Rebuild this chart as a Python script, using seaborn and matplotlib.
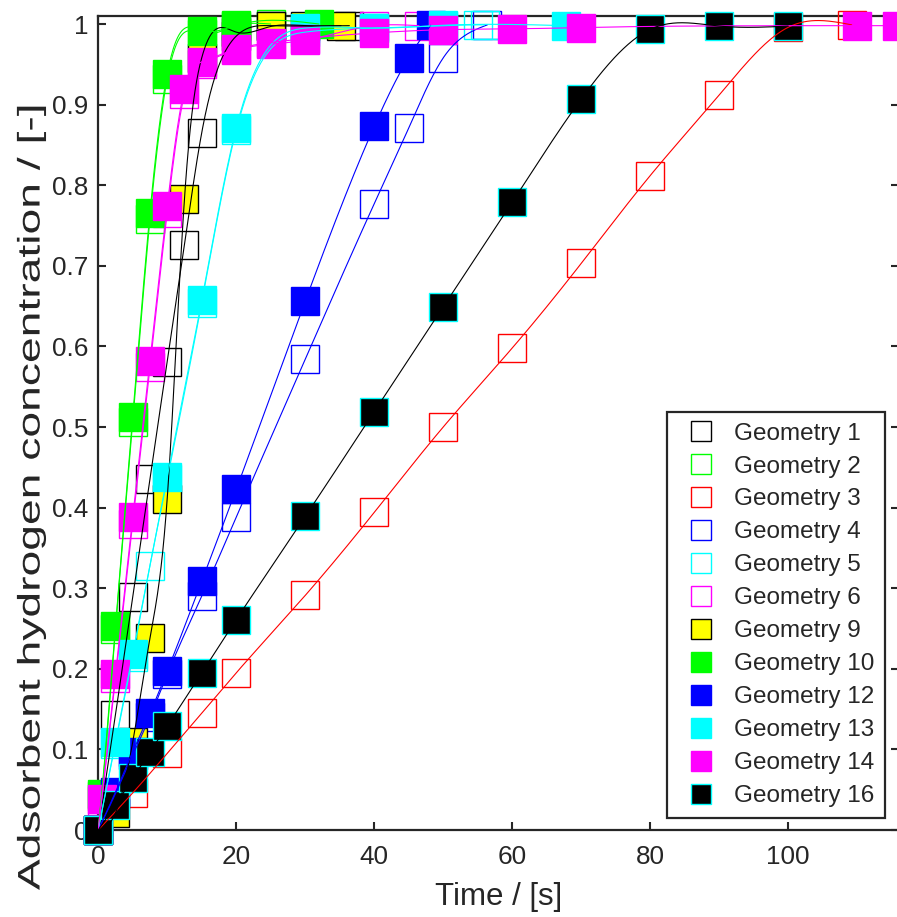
import numpy as np
import pandas as pd
import matplotlib
matplotlib.use("Agg")
import matplotlib.pyplot as plt
import matplotlib.patheffects as pe
from matplotlib.transforms import Affine2D
from matplotlib.lines import Line2D
import seaborn as sns

# ---- measured adsorption curves (time in s, normalised concentration) ----
t_g1 = [0, 2.5, 5, 7.5, 10, 12.5, 15, 20, 25, 36.4]
y_g1 = [0, 0.143, 0.289, 0.436, 0.581, 0.726, 0.865, 0.985, 0.998, 0.998]

t_g2 = [0, 0.5, 2.5, 5, 7.5, 10, 15, 20, 25]
y_g2 = [0, 0.042, 0.249, 0.506, 0.758, 0.932, 0.988, 0.998, 1.0]

t_g3 = [0, 5, 10, 15, 20, 30, 40, 50, 60, 70, 80, 90, 100, 109.2]
y_g3 = [0, 0.046, 0.095, 0.145, 0.195, 0.291, 0.394, 0.5, 0.598, 0.703, 0.812, 0.912, 0.996, 0.999]

t_g4 = [0, 2.5, 5, 7.5, 10, 15, 20, 30, 40, 45, 50, 56.4]
y_g4 = [0, 0.045, 0.093, 0.14, 0.193, 0.29, 0.388, 0.584, 0.777, 0.871, 0.958, 0.999]

t_g5 = [0, 2.5, 5, 7.5, 10, 15, 20, 30, 40, 50, 55, 56]
y_g5 = [0, 0.107, 0.215, 0.328, 0.435, 0.654, 0.868, 0.99, 0.995, 0.998, 0.999, 0.999]

t_g6 = [0, 0.5, 2.5, 5, 7.5, 10, 12.5, 15, 20, 25, 30, 40, 46.5]
y_g6 = [0, 0.036, 0.188, 0.38, 0.574, 0.766, 0.913, 0.95, 0.968, 0.975, 0.98, 0.998, 0.998]

t_g9 = [0, 2.5, 5, 7.5, 10, 12.5, 15, 20, 25, 30, 35.2]
y_g9 = [0, 0.021, 0.109, 0.238, 0.411, 0.783, 0.958, 0.99, 0.997, 0.998, 0.998]

t_g10 = [0, 0.5, 2.5, 5, 7.5, 10, 15, 20, 32]
y_g10 = [0, 0.045, 0.253, 0.512, 0.766, 0.938, 0.992, 0.9985, 1.0]

t_g12 = [0, 2.5, 5, 7.5, 10, 15, 20, 30, 40, 45, 48.2]
y_g12 = [0, 0.047, 0.097, 0.145, 0.197, 0.3085, 0.4225, 0.656, 0.873, 0.9585, 0.9985]

t_g13 = [0, 2.5, 5, 10, 15, 20, 30, 40, 50, 67.8]
y_g13 = [0, 0.109, 0.218, 0.438, 0.657, 0.871, 0.995, 0.995, 0.9985, 0.998]

t_g14 = [0, 0.5, 2.5, 5, 7.5, 10, 12.5, 15, 20, 25, 30, 40, 50, 60, 70, 110, 115.7]
y_g14 = [0, 0.038, 0.193, 0.388, 0.582, 0.774, 0.919, 0.953, 0.969, 0.977, 0.982,
         0.989, 0.993, 0.994, 0.9957, 0.998, 0.998]

t_g16 = [0, 2.5, 5, 7.5, 10, 15, 20, 30, 40, 50, 60, 70, 80, 90, 100]
y_g16 = [0, 0.031, 0.064, 0.097, 0.129, 0.195, 0.261, 0.389, 0.519, 0.649, 0.779,
         0.907, 0.9935, 0.9975, 0.9975]

labels = ["Geometry 1", "Geometry 2", "Geometry 3", "Geometry 4", "Geometry 5",
          "Geometry 6", "Geometry 9", "Geometry 10", "Geometry 12", "Geometry 13",
          "Geometry 14", "Geometry 16"]
times = [t_g1, t_g2, t_g3, t_g4, t_g5, t_g6, t_g9, t_g10, t_g12, t_g13, t_g14, t_g16]
values = [y_g1, y_g2, y_g3, y_g4, y_g5, y_g6, y_g9, y_g10, y_g12, y_g13, y_g14, y_g16]

# marker face / edge and curve colour per geometry
face = ["none", "none", "none", "none", "none", "none",
        "#ffff00", "#00ff00", "#0000ff", "#00ffff", "#ff00ff", "#000000"]
edge = ["#000000", "#00ff00", "#ff0000", "#0000ff", "#00ffff", "#ff00ff",
        "#000000", "#00ff00", "#0000ff", "#00ffff", "#ff00ff", "#00ffff"]
curve = ["#000000", "#00ff00", "#ff0000", "#0000ff", "#00ffff", "#ff00ff",
         "#000000", "#00ff00", "#0000ff", "#00ffff", "#ff00ff", "#000000"]


def natural_spline(x, y, xs):
    """Natural cubic spline through (x, y), evaluated at xs."""
    x = np.asarray(x, float)
    y = np.asarray(y, float)
    n = len(x)
    h = np.diff(x)
    A = np.zeros((n, n))
    r = np.zeros(n)
    A[0, 0] = A[-1, -1] = 1.0
    for i in range(1, n - 1):
        A[i, i - 1] = h[i - 1]
        A[i, i] = 2 * (h[i - 1] + h[i])
        A[i, i + 1] = h[i]
        r[i] = 3 * ((y[i + 1] - y[i]) / h[i] - (y[i] - y[i - 1]) / h[i - 1])
    c = np.linalg.solve(A, r)
    b = (y[1:] - y[:-1]) / h - h * (2 * c[:-1] + c[1:]) / 3
    d = (c[1:] - c[:-1]) / (3 * h)
    idx = np.clip(np.searchsorted(x, xs, side="right") - 1, 0, n - 2)
    dx = xs - x[idx]
    return y[idx] + b[idx] * dx + c[idx] * dx ** 2 + d[idx] * dx ** 3


class VerticalStretch(pe.AbstractPathEffect):
    """Stretch a drawn text path vertically about a display-space centre."""

    def __init__(self, factor, centre, new_centre):
        super().__init__()
        self.extra = (Affine2D().translate(0, -centre).scale(1, factor)
                      .translate(0, new_centre))

    def draw_path(self, renderer, gc, tpath, affine, rgbFace=None):
        renderer.draw_path(gc, tpath, affine + self.extra, rgbFace)


sns.set_theme(style="ticks")
plt.rcParams["font.family"] = ["Liberation Sans", "DejaVu Sans"]
plt.rcParams["axes.linewidth"] = 1.6
plt.rcParams["axes.edgecolor"] = "#262626"

W, H = 897, 917
fig = plt.figure(figsize=(W / 100, H / 100), dpi=100)
ax = fig.add_axes([98.2 / W, 87 / H, (898.6 - 98.2) / W, (830 - 16) / H])

# markers first (later geometries on top), curves drawn over all markers
for k, (t, y) in enumerate(zip(times, values)):
    ax.plot(t, y, linestyle="none", marker="s", markersize=20.5,
            markerfacecolor=face[k], markeredgecolor=edge[k], markeredgewidth=1.0,
            clip_on=False, zorder=3 + 0.01 * k)

for k, (t, y) in enumerate(zip(times, values)):
    ts = np.linspace(t[0], t[-1], 600)
    df = pd.DataFrame({"t": ts, "c": natural_spline(t, y, ts)})
    sns.lineplot(data=df, x="t", y="c", ax=ax, color=curve[k], linewidth=0.8,
                 sort=False, estimator=None, zorder=5)

ax.set_xlim(0, 116)
ax.set_ylim(0, 1.01)
ax.set_xticks([0, 20, 40, 60, 80, 100])
ax.set_yticks(np.round(np.arange(0, 1.01, 0.1), 1))
ax.set_yticklabels(["0", "0.1", "0.2", "0.3", "0.4", "0.5", "0.6", "0.7", "0.8", "0.9", "1"])
ax.tick_params(direction="in", length=6, width=1.5, top=True, right=True,
               labelsize=18.8, colors="#262626", pad=7)
ax.tick_params(axis="x", pad=11)
for s in ax.spines.values():
    s.set_zorder(2.5)

ax.set_xlabel("Time / [s]", fontsize=22.5, color="#262626", labelpad=9)
ylab = ax.set_ylabel("Adsorbent hydrogen concentration / [-]", fontsize=22.5,
                     color="#262626", labelpad=4)
# the axis title runs almost the full figure height
axes_mid = H - (830 + 16) / 2
ylab.set_path_effects([VerticalStretch(1.48, axes_mid, H - 497)])

handles = [Line2D([], [], linestyle="none", marker="s", markersize=14.5,
                  markerfacecolor=face[k], markeredgecolor=edge[k],
                  markeredgewidth=1.0) for k in range(len(labels))]
leg = ax.legend(handles, labels, loc="lower right",
                bbox_to_anchor=((885 - 98.2) / (898.6 - 98.2), (830 - 818) / (830 - 16)),
                borderaxespad=0, fontsize=17.5, frameon=True, fancybox=False,
                edgecolor="#262626", framealpha=1, handlelength=1.9,
                handletextpad=0.4, borderpad=0.45, labelspacing=0.45)
leg.get_frame().set_linewidth(1.6)
leg.set_zorder(10)

fig.savefig("out.png", dpi=100, facecolor="white")
